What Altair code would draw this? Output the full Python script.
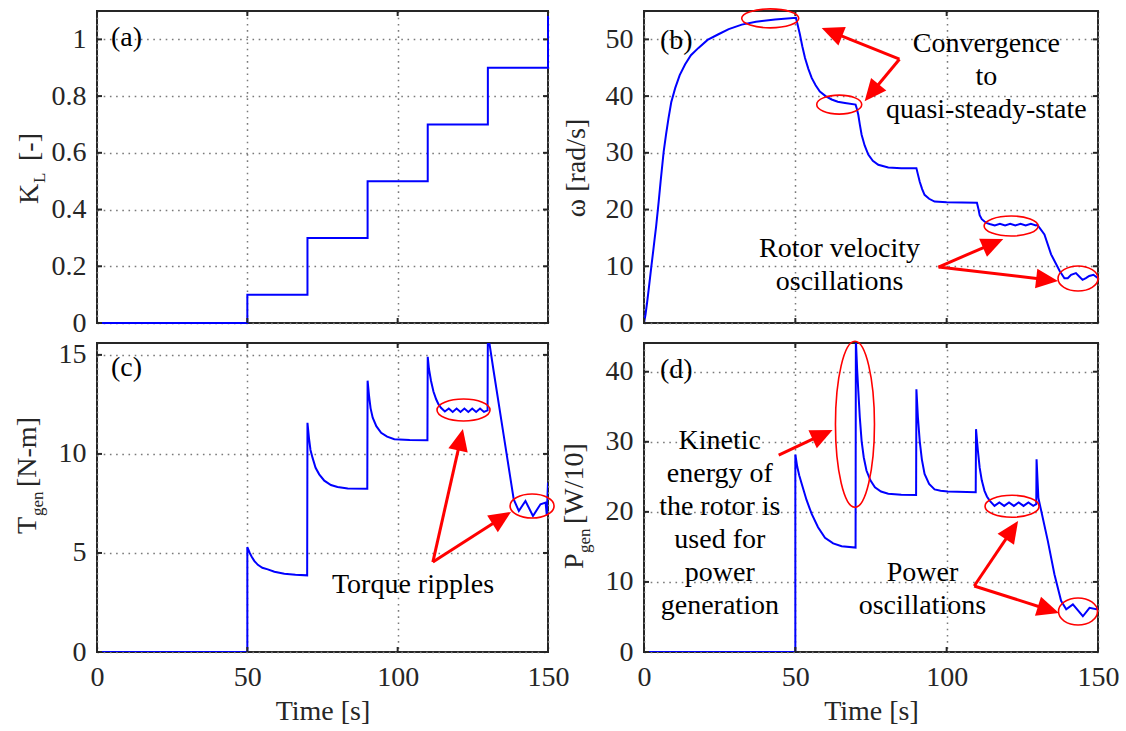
import math
import altair as alt
import pandas as pd

FONT = "Liberation Serif, Times New Roman, serif"
BLUE = "#0000ff"
RED = "#ff0000"
FRAME = "#262626"
FS = 28
SUB = 17

X_DOMAIN = [0, 150]
X_TICKS = [0, 50, 100, 150]

# ---------------- (a) load coefficient K_L ----------------
t_kl = [0, 50, 50, 70, 70, 90, 90, 110, 110, 130, 130, 150, 150]
kl = [0, 0, 0.1, 0.1, 0.3, 0.3, 0.5, 0.5, 0.7, 0.7, 0.9, 0.9, 1.1]
kl_ticks = [0, 0.2, 0.4, 0.6, 0.8, 1.0]

# ---------------- (b) rotor speed omega ----------------
t_w = [0, 0.5, 1, 1.5, 2, 2.5, 3, 3.5, 4, 4.85, 5.5, 6.5, 7.3, 8.1, 9, 10.3, 11.8, 13.6, 15.5, 18,
       21, 24.6, 28, 32.3, 37, 43.3, 50.2,
       50.8, 51.5, 52.3, 53.2, 54.3, 55.4, 56.7, 58.1, 60, 62, 64, 66.4, 69.9,
       70.3, 70.8, 71.3, 71.9, 72.9, 74.1, 75.6, 77.4, 80.7, 85, 90,
       90.5, 91.1, 91.9, 92.7, 94.2, 96, 100, 105, 110,
       110.5, 110.9, 111.6, 112.5, 113.3, 114.2, 115.9, 117.6, 119.3, 121, 122.7, 124.4, 126.1,
       127.8, 129.5, 130,
       132.3, 134.5, 137.3, 138.9, 140, 141.1, 142.7, 143.8, 144.9, 146, 147.1, 148.5, 150]
w = [0, 1.5, 3.5, 5.7, 8, 10.3, 12.5, 14.8, 17, 21.4, 25, 30.2, 33.3, 36.1, 38.9, 41.4, 43.7, 45.6, 47.2, 48.5,
     49.9, 50.9, 51.8, 52.6, 53.1, 53.5, 53.8,
     52.5, 50.9, 48.8, 46.7, 44.8, 43.2, 41.9, 40.8, 40.0, 39.4, 39.0, 38.8, 38.5,
     37.8, 36.7, 35.0, 33.2, 31.3, 29.7, 28.6, 27.9, 27.4, 27.3, 27.3,
     26.2, 24.9, 23.6, 22.6, 21.9, 21.4, 21.3, 21.25, 21.2,
     20.1, 19.0, 18.3, 17.9, 17.6, 17.45, 17.2, 17.5, 17.2, 17.5, 17.2, 17.5, 17.2,
     17.5, 17.2, 17.3,
     15.6, 12.1, 9.2, 7.9, 7.9, 8.5, 8.8, 8.2, 7.6, 7.9, 8.3, 8.5, 7.9]
w_ticks = [0, 10, 20, 30, 40, 50]

# ---------------- (c) generator torque ----------------
t_tg = [0, 50, 50, 50.8, 51.5, 52.3, 53.5, 55, 56.8, 59, 62.3, 66, 69.9,
        70, 70.5, 71, 71.7, 72.7, 73.9, 75.6, 77.8, 80, 83.4, 89.9,
        90, 90.5, 91, 91.7, 92.9, 94.5, 96.5, 98.9, 104, 109.9,
        110, 110.4, 111.1, 111.9, 112.8, 113.6, 114.4,
        115.7, 117, 118.3, 119.6, 120.9, 122.2, 123.5, 124.8, 126.1, 127.4, 128.7, 129.9,
        130, 130.6, 131.9, 135.2, 137.4, 138.6, 140.3, 142.5, 145, 147.5, 149.2, 149.6, 150]
tg = [0, 0, 5.3, 5.0, 4.8, 4.6, 4.4, 4.25, 4.17, 4.05, 3.95, 3.9, 3.87,
      11.57, 10.8, 10.2, 9.8, 9.3, 8.97, 8.65, 8.43, 8.33, 8.26, 8.24,
      13.7, 12.9, 12.3, 11.83, 11.4, 11.07, 10.87, 10.74, 10.7, 10.69,
      14.9, 14.3, 13.68, 13.15, 12.76, 12.5, 12.33,
      12.14, 12.29, 12.12, 12.29, 12.12, 12.29, 12.12, 12.29, 12.12, 12.29, 12.12, 12.2,
      16.2, 15.5, 14.2, 11.0, 8.87, 7.7, 7.12, 7.62, 6.87, 7.46, 7.54, 6.9, 8.55]
tg_ticks = [0, 5, 10, 15]

# ---------------- (d) generator power ----------------
t_p = [0, 50, 50, 50.6, 51.3, 52.1, 53.7, 55.4, 57.5, 59.8, 62.5, 65.3, 69.9,
       70, 70.4, 70.8, 71.3, 71.9, 72.6, 73.5, 74.8, 76.3, 78.3, 80.7, 85, 89.9,
       90, 90.5, 91.1, 91.8, 92.7, 94.2, 96, 98, 100.4, 109.6,
       109.7, 110.3, 110.9, 111.6, 112.5, 113.3, 114.2,
       115.8, 117.4, 119, 120.6, 122.2, 123.8, 125.4, 127, 128.6, 129.6,
       129.7, 130.3, 133.4, 135.6, 137.8, 139.5, 141.7, 145, 147.2, 149.4, 150]
p = [0, 0, 28.2, 26.5, 25.2, 24.0, 21.7, 19.7, 17.8, 16.3, 15.5, 15.1, 14.9,
     44.6, 40.5, 37.3, 33.5, 30.1, 27.8, 25.9, 24.5, 23.5, 22.9, 22.6, 22.45, 22.4,
     37.5, 33.5, 30.1, 27.5, 25.4, 24.0, 23.2, 23.0, 22.9, 22.8,
     31.8, 28.8, 26.3, 24.5, 23.0, 22.2, 21.6,
     20.85, 21.35, 20.85, 21.35, 20.85, 21.35, 20.85, 21.35, 20.85, 21.1,
     27.5, 22.0, 15.9, 11.1, 7.3, 6.1, 6.8, 5.1, 6.3, 6.1, 6.3]
p_ticks = [0, 10, 20, 30, 40]

# annotations: ellipses (center t, center v, rx px, ry px)
ell_b = [(41.7, 53.7, 28.5, 9.5), (64.5, 38.5, 22.5, 9.5), (121.3, 17.1, 27, 10), (143.4, 7.84, 20, 12.5)]
ell_c = [(121.9, 12.22, 26.5, 11), (144.7, 7.37, 22, 12)]
ell_d = [(69.7, 32.5, 19.5, 83), (121.6, 20.8, 27, 11), (143.4, 5.78, 19.5, 13.5)]
# arrows (from t, from v, to t, to v)
arr_b = [(84.4, 46.5, 58.7, 52.0), (84.4, 46.5, 72.9, 39.1),
         (97.3, 9.87, 118.7, 14.8), (97.3, 9.87, 136.8, 7.4)]
arr_c = [(111.7, 4.54, 121.7, 11.26), (111.7, 4.54, 137.7, 7.07)]
arr_d = [(44.5, 28.1, 62.3, 31.7), (109.1, 9.42, 123.6, 18.7), (109.1, 9.42, 137.1, 5.57)]
# texts (t, v of first baseline, lines)
txt_b = [(113.1, 47.8, ["Convergence", "to", "quasi-steady-state"]),
         (64.6, 11.6, ["Rotor velocity", "oscillations"])]
txt_c = [(105.1, 2.98, ["Torque ripples"])]
txt_d = [(25.05, 29.0, ["Kinetic", "energy of", "the rotor is", "used for", "power", "generation"]),
         (92.0, 10.1, ["Power", "oscillations"])]
label_pos = {"a": (4.66, 0.977), "b": (5.27, 48.3), "c": (4.66, 13.93), "d": (5.27, 39.1)}


def make_panel(name, t, v, ydom, yticks, width, height, bottom,
               ellipses, arrows, texts, ytitle_parts, anchor=False, clip=False):
    xsc = alt.Scale(domain=X_DOMAIN, nice=False, zero=False)
    ysc = alt.Scale(domain=ydom, nice=False, zero=False)
    xax = alt.Axis(values=X_TICKS, labels=bottom, title="Time [s]" if bottom else None,
                   grid=True, labelFlush=False, labelOverlap=False, labelExpr="'' + datum.value")
    yax = alt.Axis(values=yticks, title=None, grid=True, labelExpr="'' + datum.value",
                   labelFlush=False, labelOverlap=False)

    def X(f="t"):
        return alt.X(f + ":Q", scale=xsc, axis=xax)

    def Y(f="v"):
        return alt.Y(f + ":Q", scale=ysc, axis=yax)

    layers = []
    df = pd.DataFrame({"t": t, "v": v, "i": list(range(len(t)))})
    layers.append(alt.Chart(df).mark_line(color=BLUE, strokeWidth=2, clip=clip)
                  .encode(x=X(), y=Y(), order=alt.Order("i:Q")))

    # inward ticks (MATLAB style)
    tick_specs = [
        (pd.DataFrame({"t": X_TICKS, "v": [ydom[0]] * len(X_TICKS)}), "M0,0L0,-1"),
        (pd.DataFrame({"t": X_TICKS, "v": [ydom[1]] * len(X_TICKS)}), "M0,0L0,1"),
        (pd.DataFrame({"t": [X_DOMAIN[0]] * len(yticks), "v": yticks}), "M0,0L1,0"),
        (pd.DataFrame({"t": [X_DOMAIN[1]] * len(yticks), "v": yticks}), "M0,0L-1,0"),
    ]
    for tdf, shp in tick_specs:
        layers.append(alt.Chart(tdf).mark_point(shape=shp, size=100, filled=False, color=FRAME,
                                                strokeWidth=2, opacity=1)
                      .encode(x=X(), y=Y()))

    pxx = width / (X_DOMAIN[1] - X_DOMAIN[0])
    pxy = height / (ydom[1] - ydom[0])

    for (tc, vc, rx, ry) in ellipses:
        r = ry / rx
        shp = f"M-1,0A1,{r:.4f},0,1,1,1,0A1,{r:.4f},0,1,1,-1,0Z"
        edf = pd.DataFrame({"t": [tc], "v": [vc]})
        layers.append(alt.Chart(edf).mark_point(shape=shp, size=4 * rx * rx, filled=False,
                                                color=RED, strokeWidth=1.6, opacity=1)
                      .encode(x=X(), y=Y()))

    head_len = 22
    for (t1, v1, t2, v2) in arrows:
        dx = (t2 - t1) * pxx
        dy = -(v2 - v1) * pxy
        L = math.hypot(dx, dy)
        ux, uy = dx / L, dy / L
        ang = math.degrees(math.atan2(dy, dx)) % 360
        shrink = head_len * 0.6
        te = t2 - shrink * ux / pxx
        ve = v2 + shrink * uy / pxy
        rdf = pd.DataFrame({"t": [t1], "v": [v1], "t2": [te], "v2": [ve]})
        layers.append(alt.Chart(rdf).mark_rule(color=RED, strokeWidth=3)
                      .encode(x=X(), y=Y(), x2="t2:Q", y2="v2:Q"))
        hdf = pd.DataFrame({"t": [t2], "v": [v2], "a": [ang]})
        layers.append(alt.Chart(hdf).mark_point(shape="M0,0L-1,-0.45L-1,0.45Z",
                                                size=4 * head_len * head_len, filled=True,
                                                color=RED, opacity=1, strokeWidth=0)
                      .encode(x=X(), y=Y(), angle=alt.Angle("a:Q", scale=None)))

    for (tt, vv, lines) in texts:
        tdf = pd.DataFrame({"t": [tt], "v": [vv]})
        layers.append(alt.Chart(tdf).mark_text(text=lines, font=FONT, fontSize=FS, color="black",
                                               align="center", baseline="alphabetic",
                                               lineHeight=33)
                      .encode(x=X(), y=Y()))

    lt, lv = label_pos[name]
    ldf = pd.DataFrame({"t": [lt], "v": [lv]})
    layers.append(alt.Chart(ldf).mark_text(text=f"({name})", font=FONT, fontSize=FS, color="black",
                                           align="left", baseline="alphabetic")
                  .encode(x=X(), y=Y()))

    one = pd.DataFrame({"z": [0]})
    for (txt, px, py, fs, align, style) in ytitle_parts:
        layers.append(alt.Chart(one).mark_text(text=txt, font=FONT, fontSize=fs, color=FRAME,
                                               angle=270, align=align, baseline="alphabetic",
                                               fontStyle=style)
                      .encode(x=alt.value(px), y=alt.value(py)))

    if anchor:
        layers.append(alt.Chart(one).mark_rule(strokeOpacity=0, strokeWidth=0)
                      .encode(x=alt.value(-96), y=alt.value(-10), x2=alt.value(-96), y2=alt.value(-10)))

    return alt.layer(*layers).properties(width=width, height=height)


pa = make_panel("a", t_kl, kl, [0, 1.1], kl_ticks, 451, 312, False, [], [], [],
                [("K", -59, 193, FS, "left", "normal"),
                 ("L", -52, 172, SUB, "left", "normal"),
                 ("[-]", -59, 150, FS, "left", "normal")], anchor=True)
pb = make_panel("b", t_w, w, [0, 55], w_ticks, 454, 312, False, ell_b, arr_b, txt_b,
                [("ω [rad/s]", -59, 157, FS, "center", "normal")])
pc = make_panel("c", t_tg, tg, [0, 15.6], tg_ticks, 451, 309, True, ell_c, arr_c, txt_c,
                [("T", -61, 191, FS, "left", "normal"),
                 ("gen", -54, 173, SUB, "left", "normal"),
                 ("[N-m]", -61, 144, FS, "left", "normal")], clip=True)
pd_ = make_panel("d", t_p, p, [0, 44.1], p_ticks, 454, 309, True, ell_d, arr_d, txt_d,
                 [("P", -61, 226, FS, "left", "normal"),
                  ("gen", -54, 210, SUB, "left", "normal"),
                  ("[W/10]", -61, 181, FS, "left", "normal")], clip=True)

chart = alt.concat(pa, pb, pc, pd_, columns=2, bounds="flush", align="each",
                   spacing=alt.RowColnumber(row=20, column=96)).properties(
    padding=0, background="white"
).configure_axis(
    labelFont=FONT, labelFontSize=FS, labelColor=FRAME,
    titleFont=FONT, titleFontSize=FS, titleFontWeight="normal", titleColor=FRAME,
    gridColor="#7a7a7a", gridDash=[1.6, 4.6], gridWidth=1.5, gridOpacity=1,
    ticks=False, tickSize=0, domain=False, labelPadding=11, titlePadding=6,
).configure_text(font=FONT).configure_mark(font=FONT).configure_view(stroke=FRAME, strokeWidth=2)

chart.save("out.html", embed_options={"renderer": "svg", "actions": False})
